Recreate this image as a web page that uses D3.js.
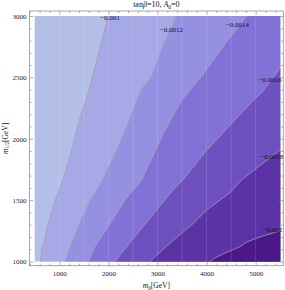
<!DOCTYPE html>
<html><head><meta charset="utf-8">
<script src="https://cdn.jsdelivr.net/npm/d3@7"></script>
<style>body{margin:0;background:#fff}svg{display:block}text{font-family:"Liberation Serif","Times New Roman",serif}</style>
</head><body><svg id="c" width="285" height="290"></svg>
<script>
// ---- data ----
const m0Range = [500, 5500];
const m12Range = [1000, 3000];
const m0Ticks = [1000, 2000, 3000, 4000, 5000];
const m12Ticks = [1000, 1500, 2000, 2500, 3000];
const contourLevels = [-0.001, -0.0012, -0.0014, -0.0016, -0.0018, -0.002];
const contourLabels = ["\u22120.001", "\u22120.0012", "\u22120.0014", "\u22120.0016", "\u22120.0018", "\u22120.002"];
// contour lines as [m0, m12] points
const c1 = [[1990,3000],[1870,2805],[1725,2585],[1585,2370],[1390,2130],[1220,1860],[1075,1665],[995,1585],[915,1500],[775,1315],[710,1190],[640,1095],[615,1000]];
const c2 = [[3390,3000],[3115,2765],[2880,2510],[2665,2400],[2575,2315],[2405,2130],[2145,1885],[1880,1665],[1760,1585],[1630,1500],[1385,1285],[1220,1120],[1115,1000]];
const c3 = [[4820,3000],[4395,2780],[3970,2545],[3500,2315],[3155,2070],[2850,1810],[2680,1665],[2340,1500],[2000,1285],[1725,1120],[1595,1000]];
const c4 = [[5500,2575],[5130,2380],[4920,2300],[4475,2110],[3970,1890],[3520,1665],[3320,1585],[2850,1355],[2480,1175],[2135,1000]];
const c5 = [[5500,1910],[5050,1770],[4715,1665],[4475,1560],[4005,1420],[3730,1310],[3255,1150],[2915,1025],[2860,1000]];
const c6 = [[5500,1250],[5090,1200],[4825,1160],[4680,1120],[4410,1075],[4170,1030],[4070,1000]];
const contourLines = [c1, c2, c3, c4, c5, c6];
// label anchors (data units)
const labelM0 = [2033, 3286, 4630, 5292, 5333, 5343];
const labelM12 = [2988, 2886, 2931, 2479, 1851, 1262];
const stripeM0 = [1000, 1500, 2000, 2500, 3000, 3500, 4000, 4500, 5000];

// ---- styles ----
const regionColors = ["#b4bfe8", "#a6a9e5", "#9690e2", "#8271d6", "#6e50bf", "#5c33a6", "#4a1888"];
const frame = {left: 29.4, right: 283.3, top: 11, bottom: 265.7};

const svg = d3.select("#c");
const x = d3.scaleLinear().domain(m0Range).range([34.75, 280.2]);
const y = d3.scaleLinear().domain(m12Range).range([261.5, 16]);
const line = d3.line().x(d => x(d[0])).y(d => y(d[1]));

// background region
svg.append("rect")
  .attr("x", x(m0Range[0])).attr("y", y(m12Range[1]))
  .attr("width", x(m0Range[1]) - x(m0Range[0]))
  .attr("height", y(m12Range[0]) - y(m12Range[1]))
  .attr("fill", regionColors[0]);

// filled regions to the lower-right of each contour
contourLines.forEach((pts, i) => {
  const poly = pts.slice();
  poly.push([m0Range[1], m12Range[0]]);
  if (pts[0][1] === m12Range[1]) poly.push([m0Range[1], m12Range[1]]);
  svg.append("path").attr("d", line(poly) + "Z").attr("fill", regionColors[i + 1]);
});

// faint seams
svg.append("g").selectAll("line").data(stripeM0).join("line")
  .attr("x1", d => x(d)).attr("x2", d => x(d))
  .attr("y1", y(m12Range[1])).attr("y2", y(m12Range[0]))
  .attr("stroke", "#fff").attr("stroke-opacity", 0.13).attr("stroke-width", 1);

// contour lines
svg.append("g").selectAll("path").data(contourLines).join("path")
  .attr("d", d => line(d)).attr("fill", "none")
  .attr("stroke", "#a2a2aa").attr("stroke-width", 0.75);

// contour labels
svg.append("g").selectAll("text").data(contourLabels).join("text")
  .attr("x", (d, i) => x(labelM0[i])).attr("y", (d, i) => y(labelM12[i]))
  .attr("dy", "0.33em").attr("text-anchor", "middle")
  .attr("font-size", 7).attr("fill", "#111").text(d => d);

// frame
svg.append("rect")
  .attr("x", frame.left).attr("y", frame.top)
  .attr("width", frame.right - frame.left).attr("height", frame.bottom - frame.top)
  .attr("fill", "none").attr("stroke", "#8f8f8f").attr("stroke-width", 0.8);

// axes
const xMinor = d3.range(400, 5500, 200).filter(v => v % 1000 !== 0);
const yMinor = d3.range(1000, 3001, 100).filter(v => v % 500 !== 0);
function styleAxis(g) {
  g.select(".domain").remove();
  g.selectAll(".tick line").attr("stroke", "#8f8f8f").attr("stroke-width", 0.7);
  g.selectAll(".tick text").attr("font-family", "Liberation Serif, serif").attr("font-size", 7).attr("fill", "#222");
}
// bottom
svg.append("g").attr("transform", `translate(0,${frame.bottom})`)
  .call(d3.axisBottom(x).tickValues(m0Ticks).tickSize(-4).tickPadding(5).tickFormat(d3.format("d"))).call(styleAxis);
svg.append("g").attr("transform", `translate(0,${frame.bottom})`)
  .call(d3.axisBottom(x).tickValues(xMinor).tickSize(-2.2).tickFormat("")).call(styleAxis);
// top
svg.append("g").attr("transform", `translate(0,${frame.top})`)
  .call(d3.axisTop(x).tickValues(m0Ticks).tickSize(-4).tickFormat("")).call(styleAxis);
svg.append("g").attr("transform", `translate(0,${frame.top})`)
  .call(d3.axisTop(x).tickValues(xMinor).tickSize(-2.2).tickFormat("")).call(styleAxis);
// left
svg.append("g").attr("transform", `translate(${frame.left},0)`)
  .call(d3.axisLeft(y).tickValues(m12Ticks).tickSize(-4).tickPadding(2.8).tickFormat(d3.format("d"))).call(styleAxis);
svg.append("g").attr("transform", `translate(${frame.left},0)`)
  .call(d3.axisLeft(y).tickValues(yMinor).tickSize(-2.2).tickFormat("")).call(styleAxis);
// right
svg.append("g").attr("transform", `translate(${frame.right},0)`)
  .call(d3.axisRight(y).tickValues(m12Ticks).tickSize(-4).tickFormat("")).call(styleAxis);
svg.append("g").attr("transform", `translate(${frame.right},0)`)
  .call(d3.axisRight(y).tickValues(yMinor).tickSize(-2.2).tickFormat("")).call(styleAxis);

// title
const cx = (frame.left + frame.right) / 2;
const t = svg.append("text").attr("x", cx).attr("y", 7.3).attr("text-anchor", "middle")
  .attr("font-size", 8).attr("fill", "#111");
t.append("tspan").text("tan");
t.append("tspan").attr("font-style", "italic").text("\u03b2");
t.append("tspan").text("=10, ");
t.append("tspan").attr("font-style", "italic").text("A");
t.append("tspan").attr("font-size", 5.5).attr("dy", 1.8).text("0");
t.append("tspan").attr("dy", -1.8).text("=0");

// x title
const xt = svg.append("text").attr("x", cx).attr("y", 288.3).attr("text-anchor", "middle")
  .attr("font-size", 7.5).attr("fill", "#111");
xt.append("tspan").attr("font-style", "italic").text("m");
xt.append("tspan").attr("font-size", 5.2).attr("dy", 1.6).text("0");
xt.append("tspan").attr("dy", -1.6).text("[GeV]");

// y title
const cy = (frame.top + frame.bottom) / 2;
const yt = svg.append("text").attr("transform", `translate(7.8,${cy}) rotate(-90)`)
  .attr("text-anchor", "middle").attr("font-size", 7.5).attr("fill", "#111");
yt.append("tspan").attr("font-style", "italic").text("m");
yt.append("tspan").attr("font-size", 5.2).attr("dy", 1.6).text("1/2");
yt.append("tspan").attr("dy", -1.6).text("[GeV]");
</script>
</body></html>
